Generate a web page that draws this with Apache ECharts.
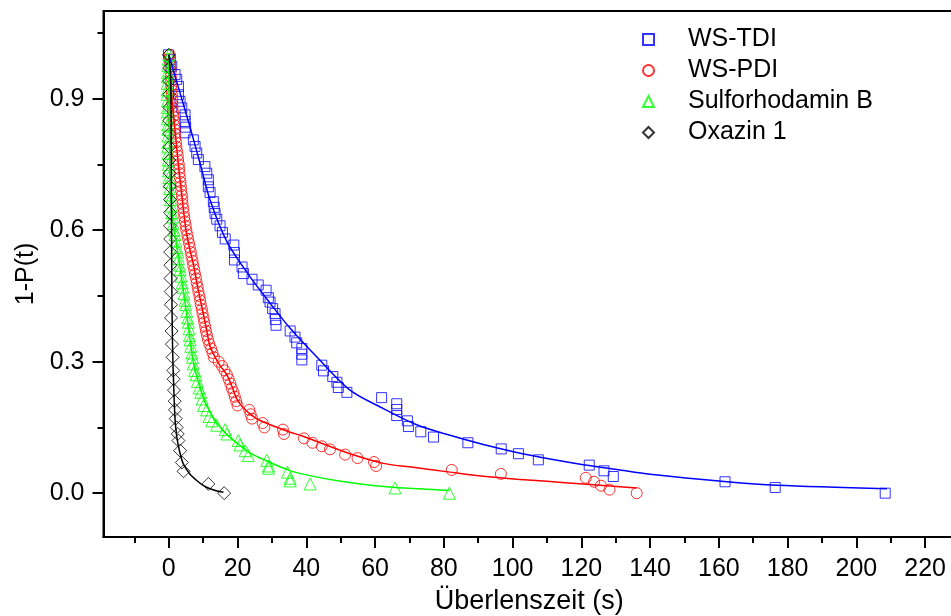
<!DOCTYPE html>
<html>
<head>
<meta charset="utf-8">
<script src="https://cdn.jsdelivr.net/npm/echarts@6/dist/echarts.min.js"></script>
<style>
  html, body { margin: 0; padding: 0; background: #fff; }
  #chart { width: 951px; height: 616px; }
</style>
</head>
<body>
<div id="chart"></div>
<script>
// tick positions
const xTicks = [0, 20, 40, 60, 80, 100, 120, 140, 160, 180, 200, 220];
const xMinorTicks = [-10, 10, 30, 50, 70, 90, 110, 130, 150, 170, 190, 210];
const yTicks = [0, 0.3, 0.6, 0.9];
const yMinorTicks = [0.15, 0.45, 0.75, 1.05];

const seriesNames = ["WS-TDI", "WS-PDI", "Sulforhodamin B", "Oxazin 1"];

// measured points [t, 1-P(t)]
const tdiPoints = [
  [-0.1, 1.0], [0.36, 0.989], [0.86, 0.974], [1.82, 0.955], [2.3, 0.944], [2.8, 0.928], [2.8, 0.909],
  [3.27, 0.894], [3.77, 0.879], [4.73, 0.863], [4.73, 0.848], [4.9, 0.835], [4.73, 0.822], [7.14, 0.806],
  [7.64, 0.791], [8.13, 0.776], [8.6, 0.761], [10.5, 0.745], [11.04, 0.73], [11.5, 0.715], [11.5, 0.699],
  [12.0, 0.686], [12.96, 0.665], [13.2, 0.652], [13.45, 0.638], [13.95, 0.625], [14.9, 0.61], [15.6, 0.595],
  [16.4, 0.58], [18.9, 0.566], [19.1, 0.549], [19.1, 0.532], [21.3, 0.516], [21.7, 0.501], [24.2, 0.488],
  [26.0, 0.475], [28.3, 0.463], [28.95, 0.446], [29.45, 0.436], [30.2, 0.421], [30.9, 0.41], [31.0, 0.396],
  [31.2, 0.383], [35.3, 0.37], [36.7, 0.356], [37.2, 0.343], [38.7, 0.33], [38.7, 0.317], [38.7, 0.304],
  [44.5, 0.292], [45.0, 0.279], [47.7, 0.266], [48.9, 0.253], [49.3, 0.241], [51.8, 0.23], [61.9, 0.218],
  [66.3, 0.204], [66.3, 0.191], [66.3, 0.177], [69.4, 0.165], [69.7, 0.152], [73.3, 0.14], [77.0, 0.128],
  [87.0, 0.115], [96.7, 0.101], [101.7, 0.09], [107.5, 0.076], [122.3, 0.064], [126.6, 0.051], [129.3, 0.038],
  [161.8, 0.026], [176.4, 0.013], [208.4, 0.0]
];
const pdiPoints = [
  [0.3, 1.0], [0.4, 0.99], [0.4, 0.98], [0.5, 0.97], [0.5, 0.96], [0.6, 0.95], [0.7, 0.94], [0.7, 0.93],
  [0.8, 0.92], [0.9, 0.91], [1.0, 0.9], [1.0, 0.89], [1.1, 0.88], [1.2, 0.87], [1.3, 0.86], [1.4, 0.85],
  [1.6, 0.84], [1.7, 0.83], [1.8, 0.82], [1.9, 0.81], [2.1, 0.8], [2.2, 0.79], [2.4, 0.78], [2.6, 0.77],
  [2.7, 0.76], [2.9, 0.75], [3.0, 0.74], [3.1, 0.73], [3.2, 0.72], [3.4, 0.71], [3.5, 0.7], [3.6, 0.69],
  [3.8, 0.68], [3.9, 0.67], [4.0, 0.66], [4.2, 0.65], [4.3, 0.64], [4.5, 0.63], [4.7, 0.62], [4.9, 0.61],
  [5.1, 0.6], [5.4, 0.59], [5.6, 0.58], [5.9, 0.57], [6.1, 0.56], [6.4, 0.55], [6.6, 0.54], [6.9, 0.53],
  [7.1, 0.52], [7.4, 0.51], [7.6, 0.5], [7.9, 0.49], [8.1, 0.48], [8.4, 0.47], [8.6, 0.46], [8.9, 0.45],
  [9.1, 0.44], [9.3, 0.43], [9.6, 0.42], [9.8, 0.41], [10.1, 0.4], [10.3, 0.39], [10.6, 0.38], [10.8, 0.37],
  [11.1, 0.36], [11.4, 0.35], [11.8, 0.34], [12.3, 0.33], [12.7, 0.32], [13.1, 0.31], [14.5, 0.3],
  [15.5, 0.29], [16.2, 0.28], [16.9, 0.27], [17.4, 0.26], [17.9, 0.25], [18.3, 0.24], [18.8, 0.23],
  [19.2, 0.22], [19.6, 0.21], [20.0, 0.2], [23.4, 0.19], [23.8, 0.18], [24.2, 0.17], [27.3, 0.16],
  [27.8, 0.15], [33.2, 0.145], [33.5, 0.135], [39.3, 0.125], [41.8, 0.115], [44.5, 0.107], [46.9, 0.1],
  [51.3, 0.088], [54.9, 0.08], [59.7, 0.071], [60.3, 0.062], [82.3, 0.053], [96.6, 0.044], [121.3, 0.035],
  [123.7, 0.026], [125.7, 0.017], [128.2, 0.008], [136.1, 0.0]
];
const srbPoints = [
  [0.0, 1.0], [-0.2, 0.99], [-0.3, 0.975], [-0.4, 0.96], [-0.4, 0.95], [-0.5, 0.935], [-0.5, 0.92],
  [-0.5, 0.91], [-0.4, 0.895], [-0.4, 0.88], [-0.4, 0.87], [-0.4, 0.855], [-0.3, 0.84], [-0.3, 0.83],
  [-0.3, 0.815], [-0.3, 0.8], [-0.3, 0.79], [-0.2, 0.775], [-0.2, 0.76], [-0.1, 0.75], [-0.1, 0.735],
  [0.0, 0.72], [0.1, 0.71], [0.2, 0.695], [0.4, 0.68], [0.5, 0.67], [0.7, 0.655], [0.9, 0.64], [1.1, 0.63],
  [1.3, 0.615], [1.6, 0.6], [1.8, 0.59], [2.1, 0.575], [2.3, 0.56], [2.6, 0.55], [2.8, 0.535], [3.1, 0.52],
  [3.3, 0.51], [3.6, 0.495], [3.9, 0.48], [4.1, 0.47], [4.4, 0.455], [4.7, 0.44], [4.9, 0.43], [5.2, 0.415],
  [5.5, 0.4], [5.7, 0.39], [5.9, 0.375], [6.0, 0.36], [6.2, 0.35], [6.4, 0.335], [6.7, 0.32], [6.9, 0.31],
  [7.1, 0.295], [7.5, 0.28], [7.9, 0.27], [8.3, 0.255], [8.8, 0.24], [9.3, 0.23], [9.7, 0.215], [10.1, 0.2],
  [11.0, 0.19], [11.7, 0.175], [12.5, 0.165], [13.9, 0.155], [16.4, 0.145], [16.9, 0.135], [20.2, 0.12],
  [20.7, 0.11], [22.2, 0.097], [23.1, 0.086], [28.5, 0.075], [29.0, 0.062], [29.0, 0.057], [34.5, 0.048],
  [35.3, 0.034], [35.3, 0.028], [41.1, 0.021], [65.8, 0.012], [81.6, 0.0]
];
const oxazinPoints = [
  [0.0, 1.0], [0.1, 0.97], [0.1, 0.94], [0.1, 0.91], [0.15, 0.88], [0.15, 0.85], [0.2, 0.82], [0.2, 0.79],
  [0.2, 0.76], [0.25, 0.73], [0.3, 0.7], [0.3, 0.67], [0.35, 0.64], [0.35, 0.61], [0.4, 0.58], [0.4, 0.55],
  [0.45, 0.52], [0.5, 0.49], [0.55, 0.46], [0.6, 0.43], [0.65, 0.4], [0.8, 0.37], [0.9, 0.34], [1.1, 0.31],
  [1.3, 0.28], [1.4, 0.26], [1.5, 0.235], [1.7, 0.21], [1.8, 0.19], [2.0, 0.17], [2.3, 0.15], [2.6, 0.135],
  [2.8, 0.12], [3.3, 0.097], [3.8, 0.07], [4.3, 0.05], [11.5, 0.021], [16.1, 0.0]
];

// fitted curves
const tdiFit = [
  [0, 1.0], [3, 0.92], [6, 0.84], [9, 0.755], [12, 0.669], [16.9, 0.574], [23.6, 0.494], [29.5, 0.433],
  [35.3, 0.376], [43.0, 0.311], [52.7, 0.235], [62.4, 0.193], [72.1, 0.156], [81.8, 0.132], [91.5, 0.111],
  [101.2, 0.093], [110.9, 0.078], [120.6, 0.065], [130.3, 0.054], [140.0, 0.043], [162.3, 0.026],
  [176.9, 0.018], [208.9, 0.01]
];
const pdiFit = [
  [0, 1.0], [0.4, 0.95], [0.9, 0.9], [1.4, 0.86], [1.9, 0.82], [2.4, 0.78], [2.9, 0.74], [3.5, 0.7],
  [4.2, 0.65], [5.0, 0.6], [6.0, 0.56], [7.2, 0.52], [8.4, 0.47], [9.6, 0.425], [10.8, 0.38], [12.0, 0.335],
  [13.5, 0.31], [15.0, 0.29], [16.9, 0.27], [18.3, 0.245], [19.8, 0.215], [21.5, 0.196], [23.6, 0.181],
  [26.0, 0.168], [29.5, 0.156], [35.3, 0.139], [39.0, 0.13], [45.0, 0.112], [52.7, 0.09], [62.4, 0.068],
  [70.0, 0.06], [81.8, 0.048], [90.0, 0.04], [101.2, 0.032], [110.0, 0.027], [120.6, 0.021], [136.1, 0.012]
];
const srbFit = [
  [0, 1.0], [0.1, 0.9], [0.2, 0.8], [0.4, 0.69], [1.3, 0.616], [2.8, 0.54], [4.2, 0.463], [5.7, 0.38],
  [7.1, 0.3], [9.1, 0.24], [11.0, 0.2], [14.0, 0.16], [17.0, 0.133], [20.5, 0.11], [24.0, 0.09],
  [28.0, 0.075], [35.0, 0.052], [41.0, 0.04], [50.0, 0.027], [60.0, 0.017], [70.0, 0.011], [81.6, 0.006]
];
const oxazinFit = [
  [0, 1.0], [0.5, 0.95], [0.7, 0.8], [0.8, 0.6], [0.9, 0.45], [1.1, 0.33], [1.4, 0.25], [1.8, 0.17],
  [2.3, 0.13], [3.0, 0.1], [4.2, 0.067], [6.0, 0.045], [8.1, 0.029], [10.0, 0.018], [12.0, 0.01],
  [14.0, 0.005], [15.9, 0.002]
];

const font = "'Liberation Sans', Arial, sans-serif";
const colors = ["#0000ff", "#ff0000", "#00ff00", "#000000"];
const symbols = ["rect", "circle", "triangle", "diamond"];
const sizes = [10, 11, 12, 13];
const pointSets = [tdiPoints, pdiPoints, srbPoints, oxazinPoints];
const fitSets = [tdiFit, pdiFit, srbFit, oxazinFit];

let myChart = echarts.init(document.getElementById("chart"));

const scatterSeries = pointSets.map((pts, i) => ({
  name: seriesNames[i],
  type: "scatter",
  data: pts,
  symbol: symbols[i],
  symbolSize: sizes[i],
  itemStyle: {
    color: "rgba(0,0,0,0)",
    borderColor: colors[i],
    borderWidth: 1
  },
  emphasis: { disabled: true },
  z: 2
}));

const fitSeries = fitSets.map((pts, i) => ({
  name: seriesNames[i] + " fit",
  type: "line",
  data: pts,
  showSymbol: false,
  smooth: 0.3,
  lineStyle: { color: colors[i], width: 1.5 },
  itemStyle: { color: colors[i] },
  z: 3
}));

let option = {
  animation: false,
  grid: {
    left: 103.5,
    top: 11,
    right: -4,
    bottom: 79,
    outerBoundsMode: "none",
    containLabel: false,
    show: true,
    borderColor: "#000",
    borderWidth: 2
  },
  legend: {
    data: seriesNames,
    orient: "vertical",
    left: 637,
    top: 22,
    itemWidth: 11,
    itemHeight: 11,
    itemGap: 6,
    textStyle: {
      fontFamily: font,
      fontSize: 25,
      color: "#000",
      lineHeight: 25,
      padding: [0, 0, 0, 29]
    }
  },
  xAxis: [
    {
      type: "value",
      min: -19,
      max: 228.7,
      name: "Überlenszeit (s)",
      nameLocation: "middle",
      nameGap: 51,
      nameTextStyle: { fontFamily: font, fontSize: 27, color: "#000" },
      splitLine: { show: false },
      axisLine: { onZero: false, lineStyle: { color: "#000", width: 2 } },
      axisTick: {
        customValues: xTicks,
        length: 11,
        lineStyle: { color: "#000", width: 2 }
      },
      axisLabel: {
        customValues: xTicks,
        fontFamily: font,
        fontSize: 25,
        color: "#000",
        margin: 20
      }
    },
    {
      type: "value",
      min: -19,
      max: 228.7,
      position: "bottom",
      splitLine: { show: false },
      axisLine: { show: false, onZero: false },
      axisLabel: { show: false },
      axisTick: {
        customValues: xMinorTicks,
        length: 6,
        lineStyle: { color: "#000", width: 2 }
      }
    }
  ],
  yAxis: [
    {
      type: "value",
      min: -0.1,
      max: 1.1,
      name: "1-P(t)",
      nameLocation: "middle",
      nameGap: 64,
      nameTextStyle: { fontFamily: font, fontSize: 25, color: "#000" },
      splitLine: { show: false },
      axisLine: { onZero: false, lineStyle: { color: "#000", width: 2 } },
      axisTick: {
        customValues: yTicks,
        length: 11,
        lineStyle: { color: "#000", width: 2 }
      },
      axisLabel: {
        customValues: yTicks,
        fontFamily: font,
        fontSize: 25,
        color: "#000",
        margin: 19,
        formatter: (v) => v.toFixed(1)
      }
    },
    {
      type: "value",
      min: -0.1,
      max: 1.1,
      position: "left",
      splitLine: { show: false },
      axisLine: { show: false, onZero: false },
      axisLabel: { show: false },
      axisTick: {
        customValues: yMinorTicks,
        length: 6,
        lineStyle: { color: "#000", width: 2 }
      }
    }
  ],
  series: scatterSeries.concat(fitSeries)
};

myChart.setOption(option);
</script>
</body>
</html>
